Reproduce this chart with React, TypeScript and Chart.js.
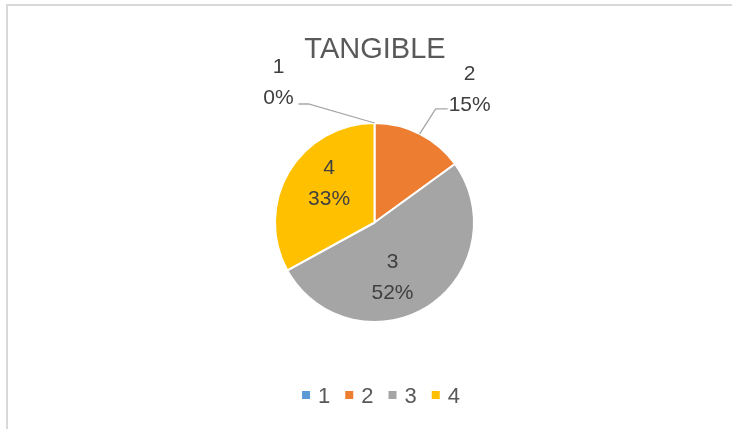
import React, { useEffect, useRef } from "react";
import { Chart, registerables } from "chart.js";

Chart.register(...registerables);

const chartTitle = "TANGIBLE";
const categories = ["1", "2", "3", "4"];
const values = [0, 15, 52, 33];
const sliceColors = ["#5B9BD5", "#ED7D31", "#A5A5A5", "#FFC000"];

// label placement: "in" = inside slice, "out" = with leader line
const labelModes = ["out", "out", "in", "in"];
// inside label nudges [dx, dy] from the mid-angle anchor
const insideNudges = [[0, 0], [0, 0], [-14, 5], [6, -8]];
// outside leader: [elbow dx, elbow dy, horizontal len, text dx, text dy]
const leaderSpecs = [
  [-66, -19, -10, -20, -21],
  [16, -25, 12, 22, -19],
  [0, 0, 0, 0, 0],
  [0, 0, 0, 0, 0],
];

const FONT = "'Liberation Sans', Arial, sans-serif";

const decorPlugin = {
  id: "decor",
  beforeDraw(chart: any) {
    const ctx = chart.ctx;
    ctx.save();
    ctx.fillStyle = "#ffffff";
    ctx.fillRect(0, 0, chart.width, chart.height);
    ctx.strokeStyle = "#D9D9D9";
    ctx.lineWidth = 2;
    ctx.beginPath();
    ctx.moveTo(7, chart.height);
    ctx.lineTo(7, 5);
    ctx.lineTo(chart.width, 5);
    ctx.stroke();

    // title
    ctx.fillStyle = "#595959";
    ctx.font = `29px ${FONT}`;
    ctx.textAlign = "center";
    ctx.textBaseline = "alphabetic";
    ctx.fillText(chartTitle, 375, 58);

    // legend
    ctx.font = `22px ${FONT}`;
    const box = 8, gapBT = 8, gapItems = 15;
    const widths = categories.map((c) => box + gapBT + ctx.measureText(c).width);
    const total = widths.reduce((a, b) => a + b, 0) + gapItems * (categories.length - 1);
    let x = 381 - total / 2;
    const baseY = 403;
    categories.forEach((c, i) => {
      ctx.fillStyle = sliceColors[i];
      ctx.fillRect(x, 391, box, box);
      ctx.fillStyle = "#595959";
      ctx.textAlign = "left";
      ctx.fillText(c, x + box + gapBT, baseY);
      x += widths[i] + gapItems;
    });
    ctx.restore();
  },
  afterDatasetsDraw(chart: any) {
    const ctx = chart.ctx;
    const meta = chart.getDatasetMeta(0);
    const data = chart.data.datasets[0].data as number[];
    const sum = data.reduce((a, b) => a + b, 0);
    ctx.save();
    ctx.font = `21px ${FONT}`;
    ctx.textAlign = "center";
    ctx.textBaseline = "middle";
    meta.data.forEach((arc: any, i: number) => {
      const { x: cx, y: cy, startAngle, endAngle, outerRadius } = arc.getProps(
        ["x", "y", "startAngle", "endAngle", "outerRadius"],
        true
      );
      const mid = (startAngle + endAngle) / 2;
      const pct = Math.round((data[i] / sum) * 100) + "%";
      let tx: number, ty: number;
      if (labelModes[i] === "in") {
        const r = outerRadius * 0.6;
        tx = cx + Math.cos(mid) * r + insideNudges[i][0];
        ty = cy + Math.sin(mid) * r + insideNudges[i][1];
      } else {
        const ex = cx + Math.cos(mid) * outerRadius;
        const ey = cy + Math.sin(mid) * outerRadius;
        const [edx, edy, hl, tdx, tdy] = leaderSpecs[i];
        const bx = ex + edx, by = ey + edy;
        const hx = bx + hl;
        ctx.strokeStyle = "#A6A6A6";
        ctx.lineWidth = 1.3;
        ctx.beginPath();
        ctx.moveTo(ex, ey);
        ctx.lineTo(bx, by);
        ctx.lineTo(hx, by);
        ctx.stroke();
        tx = hx + tdx;
        ty = by + tdy;
      }
      ctx.fillStyle = "#404040";
      ctx.fillText(categories[i], tx, ty - 15.5);
      ctx.fillText(pct, tx, ty + 15.5);
    });
    ctx.restore();
  },
};

export default function App() {
  const canvasRef = useRef<HTMLCanvasElement | null>(null);
  useEffect(() => {
    if (!canvasRef.current) return;
    const chart = new Chart(canvasRef.current, {
      type: "pie",
      data: {
        labels: categories,
        datasets: [
          {
            data: values,
            backgroundColor: sliceColors,
            borderColor: "#ffffff",
            borderWidth: 2,
          },
        ],
      },
      options: {
        responsive: false,
        animation: false,
        devicePixelRatio: 1,
        layout: { padding: { left: 274, right: 257, top: 122, bottom: 106 } },
        plugins: {
          legend: { display: false },
          title: { display: false },
          tooltip: { enabled: false },
        },
      },
      plugins: [decorPlugin],
    });
    return () => chart.destroy();
  }, []);
  return (
    <div style={{ position: "fixed", left: 0, top: 0, width: 732, height: 429, background: "#fff" }}>
      <canvas ref={canvasRef} width={732} height={429} style={{ display: "block" }} />
    </div>
  );
}
